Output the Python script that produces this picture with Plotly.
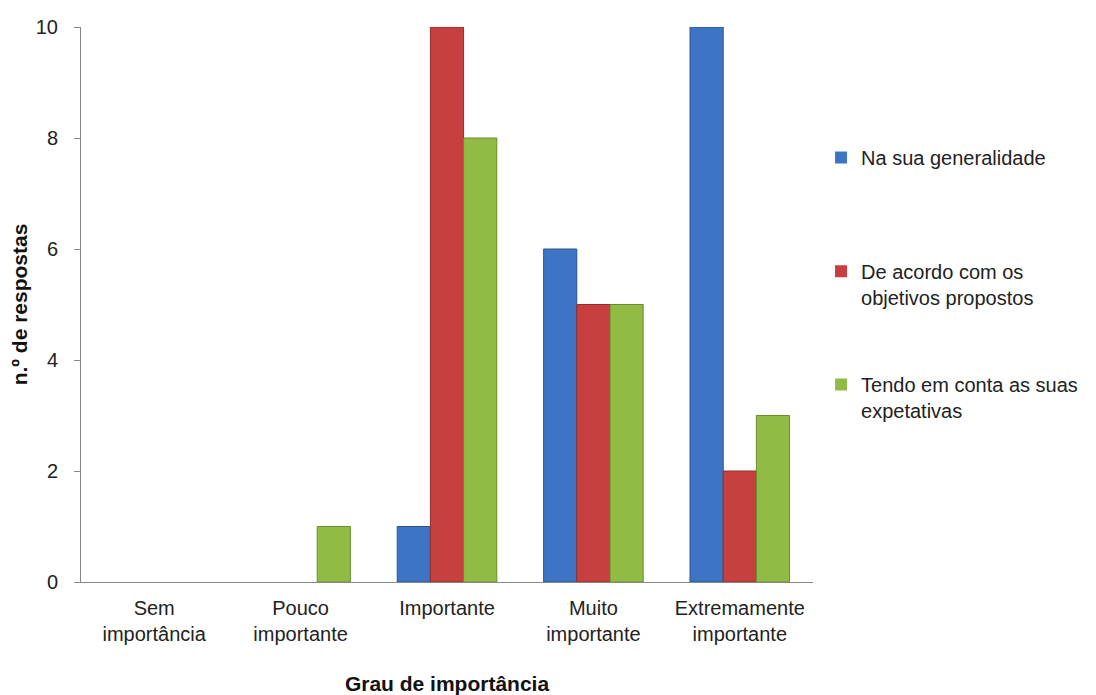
import plotly.graph_objects as go

categorias = ["Sem<br>importância", "Pouco<br>importante", "Importante",
              "Muito<br>importante", "Extremamente<br>importante"]

series_nomes = ["Na sua generalidade",
                "De acordo com os<br>objetivos propostos",
                "Tendo em conta as suas<br>expetativas"]
na_sua_generalidade = [0, 0, 1, 6, 10]
de_acordo_objetivos = [0, 0, 10, 5, 2]
tendo_expetativas = [0, 1, 8, 5, 3]

CORES = ["#3D74C3", "#C73F3E", "#90BB45"]
BORDAS = ["#2B5590", "#942C2C", "#6A8C2E"]
FONTE = "Liberation Sans, Arial, sans-serif"
LEGENDAS = ["legend", "legend2", "legend3"]
LEG_Y = [0.80, 0.595, 0.391]

fig = go.Figure()
for i, (nome, vals) in enumerate(zip(series_nomes,
                                     [na_sua_generalidade, de_acordo_objetivos, tendo_expetativas])):
    fig.add_trace(go.Bar(
        x=categorias,
        y=vals,
        name=nome,
        legend=LEGENDAS[i],
        showlegend=True,
        marker=dict(color=CORES[i],
                    line=dict(color=BORDAS[i], width=[1 if v else 0 for v in vals])),
    ))

leg_comum = dict(
    x=1.011, xanchor="left", yanchor="top",
    font=dict(size=20, family=FONTE, color="#222222"),
    itemwidth=30, valign="top",
    bgcolor="rgba(0,0,0,0)",
)
legendas = {nome: dict(leg_comum, y=y) for nome, y in zip(LEGENDAS, LEG_Y)}

# a página tem 8 px de margem no body: a figura começa em (8, 8)
fig.update_layout(
    width=1088, height=687,
    paper_bgcolor="#FFFFFF",
    plot_bgcolor="#FFFFFF",
    margin=dict(l=73, r=283, t=19, b=113),
    barmode="group",
    bargap=0.32,
    bargroupgap=0,
    showlegend=True,
    font=dict(family=FONTE, color="#222222", size=20),
    **legendas,
    xaxis=dict(
        automargin=False,
        showline=True, linecolor="#888888", linewidth=1,
        ticks="", showgrid=False, zeroline=False,
        ticklabelstandoff=8,
        tickfont=dict(size=20, family=FONTE, color="#222222"),
        title=dict(text="<b>Grau de importância</b>",
                   font=dict(size=21, family=FONTE, color="#111111"),
                   standoff=37),
    ),
    yaxis=dict(
        automargin=False,
        range=[0, 10], dtick=2,
        showline=True, linecolor="#888888", linewidth=1,
        ticks="outside", ticklen=6, tickcolor="#888888",
        showgrid=False, zeroline=False,
        ticklabelstandoff=12,
        tickfont=dict(size=20, family=FONTE, color="#222222"),
        title=dict(text="<b>n.º de respostas</b>",
                   font=dict(size=21, family=FONTE, color="#111111"),
                   standoff=4),
    ),
)

fig.write_html("out.html")
